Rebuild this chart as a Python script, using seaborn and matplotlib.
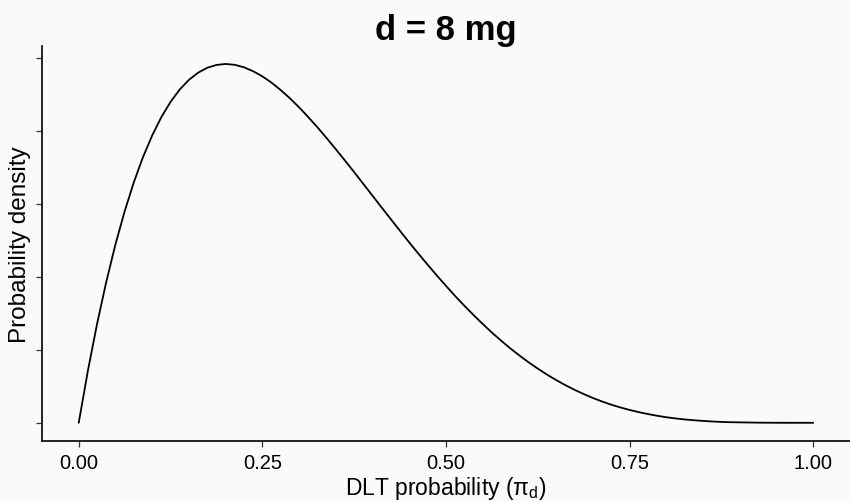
import matplotlib
matplotlib.use("Agg")
import matplotlib.pyplot as plt
import numpy as np
import pandas as pd
import seaborn as sns

# Prior density of the DLT probability at dose d = 8 mg
pi_d = [0.0, 0.0125, 0.025, 0.0375, 0.05, 0.0625, 0.075, 0.0875, 0.1, 0.1125,
        0.125, 0.1375, 0.15, 0.1625, 0.175, 0.1875, 0.2, 0.2125, 0.225, 0.2375,
        0.25, 0.2625, 0.275, 0.2875, 0.3, 0.3125, 0.325, 0.3375, 0.35, 0.3625,
        0.375, 0.3875, 0.4, 0.4125, 0.425, 0.4375, 0.45, 0.4625, 0.475, 0.4875,
        0.5, 0.5125, 0.525, 0.5375, 0.55, 0.5625, 0.575, 0.5875, 0.6, 0.6125,
        0.625, 0.6375, 0.65, 0.6625, 0.675, 0.6875, 0.7, 0.7125, 0.725, 0.7375,
        0.75, 0.7625, 0.775, 0.7875, 0.8, 0.8125, 0.825, 0.8375, 0.85, 0.8625,
        0.875, 0.8875, 0.9, 0.925, 0.95, 0.975, 1.0]
density = [0.0, 0.357, 0.678, 0.965, 1.222, 1.448, 1.647, 1.820, 1.968, 2.094,
           2.198, 2.283, 2.349, 2.398, 2.432, 2.451, 2.458, 2.452, 2.435, 2.408,
           2.373, 2.330, 2.279, 2.223, 2.161, 2.094, 2.024, 1.950, 1.874, 1.796,
           1.717, 1.636, 1.555, 1.474, 1.394, 1.314, 1.235, 1.158, 1.083, 1.009,
           0.938, 0.868, 0.802, 0.738, 0.677, 0.618, 0.563, 0.510, 0.461, 0.414,
           0.371, 0.330, 0.293, 0.258, 0.226, 0.197, 0.170, 0.146, 0.124, 0.105,
           0.088, 0.073, 0.060, 0.048, 0.038, 0.030, 0.023, 0.0175, 0.013, 0.009,
           0.006, 0.004, 0.003, 0.001, 0.0002, 0.0, 0.0]

x_ticks = [0.0, 0.25, 0.5, 0.75, 1.0]
x_tick_labels = ["0.00", "0.25", "0.50", "0.75", "1.00"]
y_ticks = [0.0, 0.5, 1.0, 1.5, 2.0, 2.5]

df = pd.DataFrame({"pi_d": pi_d, "density": density})

sns.set_theme(style="ticks")
bg = "#FAFAFA"
plt.rcParams["font.family"] = ["Liberation Sans", "DejaVu Sans"]
plt.rcParams["mathtext.fontset"] = "custom"
plt.rcParams["mathtext.rm"] = "Liberation Sans"
plt.rcParams["mathtext.it"] = "Liberation Sans:italic"

fig = plt.figure(figsize=(8.5, 5.02), dpi=100, facecolor=bg)
ax = fig.add_axes([0.0494, 0.120, 0.9506, 0.7864])
ax.set_facecolor(bg)

sns.lineplot(data=df, x="pi_d", y="density", ax=ax, color="black", linewidth=1.3)

ax.set_xlim(-0.05, 1.05)
ax.set_ylim(-0.123, 2.581)
ax.set_xticks(x_ticks)
ax.set_xticklabels(x_tick_labels)
ax.set_yticks(y_ticks)
ax.set_yticklabels([])

for side in ("top", "right"):
    ax.spines[side].set_visible(False)
for side in ("left", "bottom"):
    ax.spines[side].set_color("black")
    ax.spines[side].set_linewidth(1.2)

ax.tick_params(axis="both", length=4.5, width=0.9, color="#333333",
               labelsize=14.5, labelcolor="black", pad=4)

ax.set_xlabel(r"DLT probability ($\mathregular{\pi_d}$)", fontsize=16.5,
              color="black")
ax.xaxis.set_label_coords(0.5, -0.085)
ax.set_ylabel("Probability density", fontsize=17.5, color="black")
ax.yaxis.set_label_coords(-0.014, 0.5)
ax.set_title("d = 8 mg", fontsize=25, fontweight="bold", color="black", pad=5)

fig.savefig("out.png", dpi=100, facecolor=bg)
